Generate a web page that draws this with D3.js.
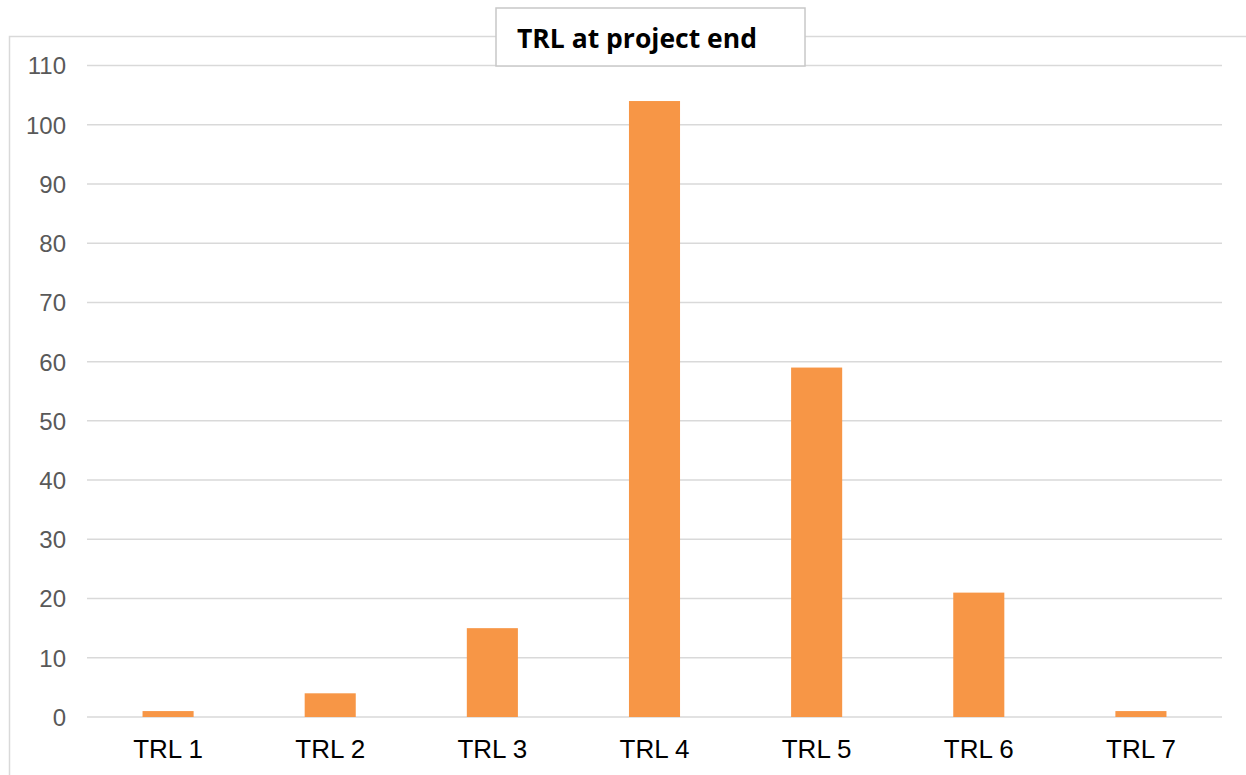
<!DOCTYPE html>
<html><head><meta charset="utf-8">
<script src="https://cdn.jsdelivr.net/npm/d3@7"></script>
<style>body{margin:0;background:#fff}svg{display:block}</style>
</head><body>
<script>
const categories = ["TRL 1","TRL 2","TRL 3","TRL 4","TRL 5","TRL 6","TRL 7"];
const values = [1, 4, 15, 104, 59, 21, 1];
const yTicks = [0,10,20,30,40,50,60,70,80,90,100,110];
const title = "TRL at project end";

const W = 1246, H = 775;
const svg = d3.select("body").append("svg").attr("width", W).attr("height", H);

// outer chart border
svg.append("rect").attr("x", 9.5).attr("y", 36.5).attr("width", 1250).attr("height", 760)
  .attr("fill", "#fff").attr("stroke", "#d9d9d9").attr("stroke-width", 1.5);

const x = d3.scaleBand().domain(categories).range([87, 1222]).paddingInner(0.685).paddingOuter(0.3425);
const y = d3.scaleLinear().domain([0, 110]).range([717, 65.5]);

// gridlines
svg.append("g").selectAll("line").data(yTicks).join("line")
  .attr("x1", 87).attr("x2", 1222)
  .attr("y1", d => y(d)).attr("y2", d => y(d))
  .attr("stroke", "#d9d9d9").attr("stroke-width", 1.5);

// y axis labels
const yAxis = d3.axisLeft(y).tickValues(yTicks).tickSize(0).tickPadding(0);
const ya = svg.append("g").attr("transform", "translate(66,0)").call(yAxis);
ya.select(".domain").remove();
ya.selectAll("text").attr("font-family", "Liberation Sans, Arial, sans-serif")
  .attr("font-size", 24).attr("fill", "#595959").attr("dy", "0.35em");

// bars
svg.append("g").selectAll("rect").data(values).join("rect")
  .attr("x", (d, i) => x(categories[i]))
  .attr("width", x.bandwidth())
  .attr("y", d => y(d))
  .attr("height", d => y(0) - y(d))
  .attr("fill", "#f79646");

// x axis labels
const xAxis = d3.axisBottom(x).tickSize(0).tickPadding(0);
const xa = svg.append("g").attr("transform", "translate(0,758)").call(xAxis);
xa.select(".domain").remove();
xa.selectAll("text").attr("font-family", "Liberation Sans, Arial, sans-serif")
  .attr("font-size", 26).attr("fill", "#000").attr("dy", "0");

// title box
svg.append("rect").attr("x", 496).attr("y", 8).attr("width", 309).attr("height", 58)
  .attr("fill", "#fff").attr("stroke", "#c8c8c8").attr("stroke-width", 1.5);
svg.append("text").attr("x", 517).attr("y", 48).text(title)
  .attr("font-family", "Open Sans, Liberation Sans, sans-serif").attr("font-weight", "bold")
  .attr("font-size", 26.5).attr("fill", "#000");
</script>
</body></html>
